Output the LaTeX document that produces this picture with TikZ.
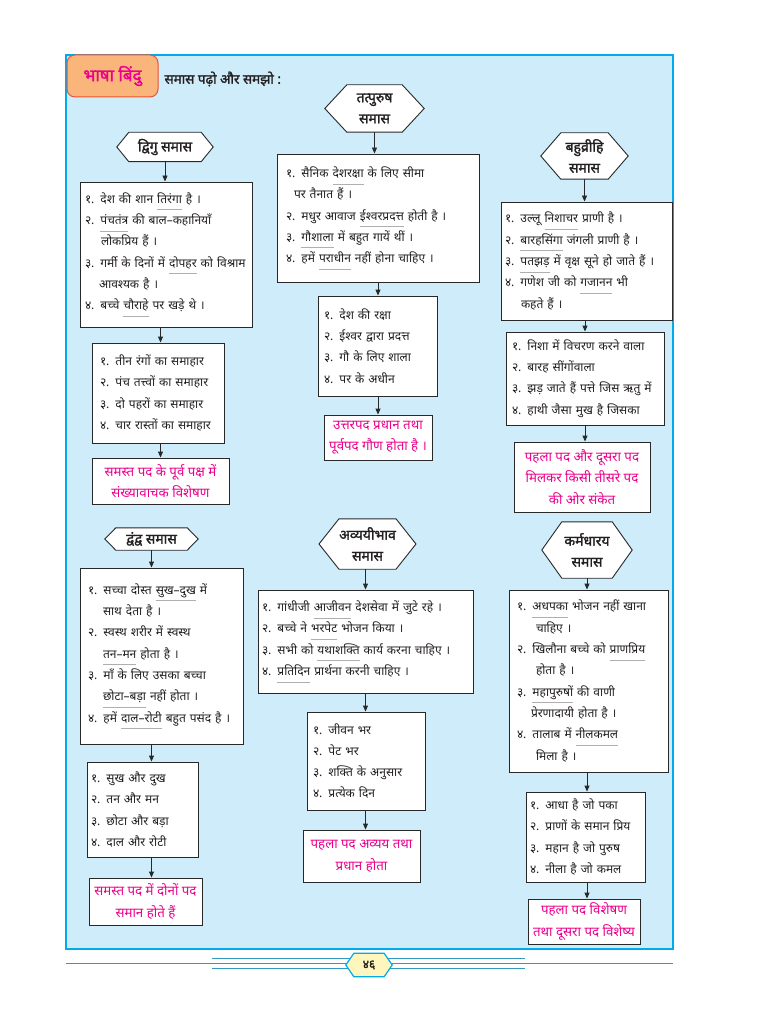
\documentclass[tikz,border=0pt]{standalone}
\usepackage{fontspec}
\setmainfont[Script=Devanagari, AutoFakeBold=1.6]{Noto Sans}
\usetikzlibrary{arrows.meta}
\definecolor{panelbg}{RGB}{206,236,250}
\definecolor{panelbd}{RGB}{0,170,235}
\definecolor{pinktxt}{RGB}{236,0,140}
\definecolor{tabfill}{RGB}{250,182,122}
\definecolor{tabbd}{RGB}{238,80,50}
\definecolor{ulgray}{RGB}{175,175,175}
\definecolor{txtc}{RGB}{35,31,32}
\definecolor{boxbd}{RGB}{40,40,40}
\definecolor{badgefill}{RGB}{255,246,190}
\pgfdeclarelayer{panellayer}
\pgfdeclarelayer{hexlayer}
\pgfsetlayers{panellayer,hexlayer,main}
\newsavebox{\myulbox}
\newcommand{\ulw}[1]{\sbox{\myulbox}{#1}\rlap{\textcolor{ulgray}{\rule[-6.5pt]{\wd\myulbox}{0.5pt}}}\usebox{\myulbox}}
\newcommand{\ind}[1]{\hspace*{#1pt}}
\newcommand{\hexsh}[2]{\begin{pgfonlayer}{hexlayer}\draw[hexline] (#1.north west) -- (#1.north east) -- ([xshift=#2pt]#1.east) -- (#1.south east) -- (#1.south west) -- ([xshift=-#2pt]#1.west) -- cycle;\end{pgfonlayer}}
\tikzset{
 exbox/.style={draw=boxbd, line width=0.9pt, fill=white, align=left, text=txtc, inner ysep=0pt, font=\fontsize{12}{21.3}\selectfont},
 defbox/.style={draw=boxbd, line width=0.9pt, fill=white, align=center, text=pinktxt, inner sep=0pt, font=\fontsize{13.3}{21.5}\selectfont},
 hexn/.style={inner sep=0pt, align=center, text=txtc, font=\bfseries\fontsize{14}{21}\selectfont},
 hexline/.style={draw=boxbd, line width=0.9pt, fill=white},
 arr/.style={draw=boxbd, line width=0.9pt, -{Triangle[length=6pt,width=5pt]}},
}
\begin{document}
\begin{tikzpicture}[x=1pt,y=-1pt]
\useasboundingbox (0,0) rectangle (767,1024);
\begin{pgfonlayer}{panellayer}
\fill[white] (0,0) rectangle (767,1024);
\draw[fill=panelbg, draw=panelbd, line width=1.2pt] (66,55) rectangle (673,949);
\draw[panelbd, line width=0.9pt] (66,963) -- (673,963);
\draw[panelbd!60!gray, line width=0.5pt] (212,958) -- (525,958);
\draw[panelbd!60!gray, line width=0.5pt] (212,968) -- (525,968);
\end{pgfonlayer}

% header
\node[draw=tabbd, line width=1pt, fill=tabfill, rounded corners=8pt, minimum width=91pt, minimum height=42pt, text=pinktxt, font=\bfseries\fontsize{17}{20}\selectfont] (tab) at (112.5,76) {भाषा बिंदु};
\node[anchor=west, text=txtc, font=\bfseries\fontsize{13.5}{15}\selectfont] (hdr) at (161,79) {समास पढ़ो और समझो :};

% left column top
\node[hexn, minimum width=72pt, minimum height=29pt] (HL) at (165,147) {द्विगु समास};
\hexsh{HL}{12}
\node[exbox, inner xsep=5pt, text width=162pt, minimum height=145pt] (L1) at (166,254.5) {%
१. देश की शान \ulw{तिरंगा} है ।\\
२. \ulw{पंचतंत्र} की बाल–कहानियाँ\\
\ind{16}लोकप्रिय हैं ।\\
३. गर्मी के दिनों में \ulw{दोपहर} को विश्राम\\
\ind{14}आवश्यक है ।\\
४. बच्चे \ulw{चौराहे} पर खड़े थे ।};
\node[exbox, inner xsep=8pt, text width=116pt, minimum height=100pt] (L2) at (158,393) {%
१. तीन रंगों का समाहार\\
२. पंच तत्त्वों का समाहार\\
३. दो पहरों का समाहार\\
४. चार रास्तों का समाहार};
\node[defbox, minimum width=137pt, minimum height=46pt] (L3) at (160.5,481) {समस्त पद के पूर्व पक्ष में\\संख्यावाचक विशेषण};
\draw[arr] (HL.south) -- (HL.south |- L1.north);
\draw[arr] (L1.south -| L3.north) -- (L2.north -| L3.north);
\draw[arr] (L2.south -| L3.north) -- (L3.north);

% middle column top
\node[hexn, minimum width=55pt, minimum height=47pt] (HM) at (374.5,108.5) {तत्पुरुष\\समास};
\hexsh{HM}{22}
\node[exbox, inner xsep=9pt, text width=184pt, minimum height=128pt] (M1) at (378,218) {%
१. सैनिक \ulw{देशरक्षा} के लिए सीमा\\
\ind{8}पर तैनात हैं ।\\
२. मधुर आवाज \ulw{ईश्वरप्रदत्त} होती है ।\\
३. \ulw{गौशाला} में बहुत गायें थीं ।\\
४. हमें \ulw{पराधीन} नहीं होना चाहिए ।};
\node[exbox, inner xsep=6pt, text width=107pt, minimum height=100pt] (M2) at (377.5,346) {%
१. देश की रक्षा\\
२. ईश्वर द्वारा प्रदत्त\\
३. गौ के लिए शाला\\
४. पर के अधीन};
\node[defbox, minimum width=108pt, minimum height=45pt] (M3) at (378,437.5) {उत्तरपद प्रधान तथा\\पूर्वपद गौण होता है ।};
\draw[arr] (HM.south) -- (HM.south |- M1.north);
\draw[arr] (M1.south -| M3.north) -- (M2.north -| M3.north);
\draw[arr] (M2.south -| M3.north) -- (M3.north);

% right column top
\node[hexn, minimum width=47pt, minimum height=46pt] (HR) at (584.5,156) {बहुव्रीहि\\समास};
\hexsh{HR}{20}
\node[exbox, inner xsep=4pt, text width=163pt, minimum height=118pt] (R1) at (586.5,261) {%
१. उल्लू \ulw{निशाचर} प्राणी है ।\\
२. \ulw{बारहसिंगा} जंगली प्राणी है ।\\
३. \ulw{पतझड़} में वृक्ष सूने हो जाते हैं ।\\
४. गणेश जी को \ulw{गजानन} भी\\
\ind{16}कहते हैं ।};
\node[exbox, inner xsep=6pt, text width=146pt, minimum height=93pt] (R2) at (585,378.5) {%
१. निशा में विचरण करने वाला\\
२. बारह सींगोंवाला\\
३. झड़ जाते हैं पत्ते जिस ऋतु में\\
४. हाथी जैसा मुख है जिसका};
\node[defbox, minimum width=136pt, minimum height=70pt] (R3) at (582,477) {पहला पद और दूसरा पद\\मिलकर किसी तीसरे पद\\की ओर संकेत};
\draw[arr] (HR.south) -- (HR.south |- R1.north);
\draw[arr] (R1.south -| R2.north) -- (R2.north);
\draw[arr] (R2.south) -- (R2.south |- R3.north);

% bottom left
\node[hexn, minimum width=71pt, minimum height=22pt] (HBL) at (151.5,539) {द्वंद्व समास};
\hexsh{HBL}{11}
\node[exbox, inner xsep=8pt, text width=147pt, minimum height=176pt] (BL1) at (161.5,656) {%
१. सच्चा दोस्त \ulw{सुख–दुख} में\\
\ind{15}साथ देता है ।\\
२. स्वस्थ शरीर में स्वस्थ\\
\ind{15}\ulw{तन–मन} होता है ।\\
३. माँ के लिए उसका बच्चा\\
\ind{15}\ulw{छोटा–बड़ा} नहीं होता ।\\
४. हमें \ulw{दाल–रोटी} बहुत पसंद है ।};
\node[exbox, inner xsep=4pt, text width=103pt, minimum height=95pt] (BL2) at (142.5,809.5) {%
१. सुख और दुख\\
२. तन और मन\\
३. छोटा और बड़ा\\
४. दाल और रोटी};
\node[defbox, minimum width=113pt, minimum height=47pt] (BL3) at (145.5,901.5) {समस्त पद में दोनों पद\\समान होते हैं};
\draw[arr] (HBL.south) -- (HBL.south |- BL1.north);
\draw[arr] (BL1.south -| HBL.south) -- (BL2.north -| HBL.south);
\draw[arr] (BL2.south -| HBL.south) -- (BL3.north -| HBL.south);

% bottom middle
\node[hexn, minimum width=51pt, minimum height=50pt] (HBM) at (367.5,544) {अव्ययीभाव\\समास};
\hexsh{HBM}{20}
\node[exbox, inner xsep=4pt, text width=207pt, minimum height=103pt] (BM1) at (365.5,641.5) {%
१. गांधीजी \ulw{आजीवन} देशसेवा में जुटे रहे ।\\
२. बच्चे ने \ulw{भरपेट} भोजन किया ।\\
३. सभी को \ulw{यथाशक्ति} कार्य करना चाहिए ।\\
४. \ulw{प्रतिदिन} प्रार्थना करनी चाहिए ।};
\node[exbox, inner xsep=6pt, text width=106pt, minimum height=98pt] (BM2) at (366,761) {%
१. जीवन भर\\
२. पेट भर\\
३. शक्ति के अनुसार\\
४. प्रत्येक दिन};
\node[defbox, minimum width=117pt, minimum height=52pt] (BM3) at (361.5,856) {पहला पद अव्यय तथा\\प्रधान होता};
\draw[arr] (HBM.south -| BM1.north) -- (BM1.north);
\draw[arr] (BM1.south) -- (BM1.south |- BM2.north);
\draw[arr] (BM2.south -| BM1.south) -- (BM3.north -| BM1.south);

% bottom right
\node[hexn, minimum width=50pt, minimum height=56pt] (HBR) at (587,550) {कर्मधारय\\समास};
\hexsh{HBR}{20}
\node[exbox, inner xsep=8pt, text width=143pt, minimum height=182pt] (BR1) at (588.5,681) {%
१. \ulw{अधपका} भोजन नहीं खाना\\
\ind{19}चाहिए ।\\
२. खिलौना बच्चे को \ulw{प्राणप्रिय}\\
\ind{19}होता है ।\\
३. \ulw{महापुरुषों} की वाणी\\
\ind{14}प्रेरणादायी होता है ।\\
४. तालाब में \ulw{नीलकमल}\\
\ind{19}मिला है ।};
\node[exbox, inner xsep=4pt, text width=111pt, minimum height=90pt] (BR2) at (585.5,837) {%
१. आधा है जो पका\\
२. प्राणों के समान प्रिय\\
३. महान है जो पुरुष\\
४. नीला है जो कमल};
\node[defbox, minimum width=112pt, minimum height=45pt] (BR3) at (584,921.5) {पहला पद विशेषण\\तथा दूसरा पद विशेष्य};
\draw[arr] (HBR.south) -- (HBR.south |- BR1.north);
\draw[arr] (BR1.south -| HBR.south) -- (BR2.north -| HBR.south);
\draw[arr] (BR2.south -| HBR.south) -- (BR3.north -| HBR.south);

% page badge
\node[inner sep=0pt, minimum width=30pt, minimum height=23pt, text=txtc, font=\bfseries\fontsize{12}{14}\selectfont] (pg) at (369,965) {४६};
\begin{pgfonlayer}{hexlayer}
\draw[draw=panelbd, line width=1.2pt, fill=badgefill] (pg.north west) -- (pg.north east) -- ([xshift=8pt]pg.east) -- (pg.south east) -- (pg.south west) -- ([xshift=-8pt]pg.west) -- cycle;
\end{pgfonlayer}
\end{tikzpicture}
\end{document}
